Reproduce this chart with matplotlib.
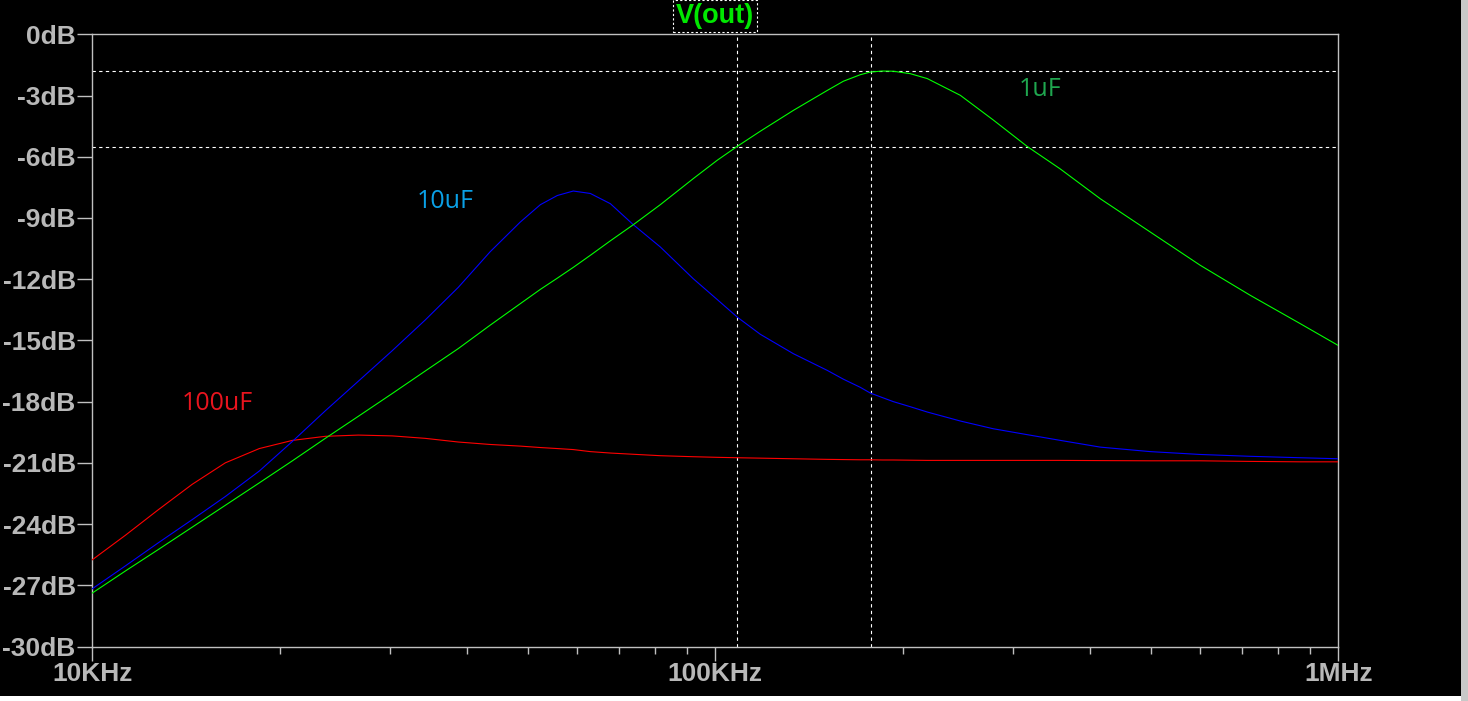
import matplotlib
matplotlib.use("Agg")
import matplotlib.pyplot as plt
from matplotlib.patches import Rectangle
from matplotlib.ticker import FixedLocator, NullFormatter

# ---- data ----
freq_hz = [10000, 11300, 12760, 14470, 16350, 18540, 20950, 23660, 26730, 30310,
           34230, 38680, 43530, 48640, 52380, 55770, 59170, 63010, 67850, 73860,
           81600, 92200, 100740, 108470, 118090, 133420, 151270, 160530, 170910,
           177340, 185380, 193070, 205590, 218900, 247330, 279400, 316810, 357950,
           414970, 499130, 600400, 722180, 868960, 1000000]

db_1uF = [-27.38, -26.30, -25.25, -24.15, -23.08, -21.98, -20.90, -19.80, -18.72, -17.60,
          -16.50, -15.40, -14.25, -13.20, -12.50, -11.95, -11.42, -10.83, -10.12, -9.33,
          -8.35, -7.07, -6.17, -5.49, -4.75, -3.73, -2.75, -2.30, -1.98,
          -1.85, -1.80, -1.81, -1.93, -2.17, -2.99, -4.20, -5.50, -6.60,
          -8.06, -9.69, -11.32, -12.79, -14.18, -15.25]

db_10uF = [-27.17, -26.05, -24.92, -23.78, -22.65, -21.40, -19.95, -18.45, -17.00, -15.50,
           -14.00, -12.40, -10.65, -9.20, -8.35, -7.90, -7.68, -7.80, -8.30, -9.33,
           -10.42, -11.98, -13.00, -13.86, -14.70, -15.65, -16.47, -16.90, -17.30,
           -17.58, -17.80, -18.00, -18.25, -18.51, -18.95, -19.33, -19.62, -19.90,
           -20.23, -20.45, -20.59, -20.68, -20.75, -20.80]

db_100uF = [-25.75, -24.55, -23.30, -22.05, -21.00, -20.30, -19.90, -19.70, -19.64, -19.68,
            -19.80, -19.98, -20.10, -20.18, -20.25, -20.30, -20.35, -20.45, -20.52, -20.58,
            -20.65, -20.70, -20.73, -20.75, -20.77, -20.80, -20.83, -20.84, -20.85,
            -20.85, -20.86, -20.86, -20.87, -20.88, -20.88, -20.88, -20.88, -20.88,
            -20.89, -20.90, -20.90, -20.93, -20.95, -20.95]

y_ticks = [0, -3, -6, -9, -12, -15, -18, -21, -24, -27, -30]
y_labels = ["0dB", "-3dB", "-6dB", "-9dB", "-12dB", "-15dB", "-18dB",
            "-21dB", "-24dB", "-27dB", "-30dB"]
x_ticks = [1e4, 1e5, 1e6]
x_labels = ["10KHz", "100KHz", "1MHz"]

cursor_freqs = [108300, 177600]
cursor_levels = [-1.80, -5.50]

trace_title = "V(out)"
label_texts = ["1uF", "10uF", "100uF"]

# ---- figure ----
W, H = 1468, 701
fig = plt.figure(figsize=(W / 100, H / 100), dpi=100, facecolor="black")
ax = fig.add_axes([92.3 / W, (H - 646.5) / H, (1338.3 - 92.3) / W, (646.5 - 34.3) / H],
                  facecolor="black")

# frame strips at right and bottom
fig.patches.append(Rectangle((1461 / W, 0), 7 / W, 1, transform=fig.transFigure,
                             facecolor="#c8c8c8", edgecolor="none", zorder=-1))
fig.patches.append(Rectangle((0, 0), 1461 / W, 5 / H, transform=fig.transFigure,
                             facecolor="white", edgecolor="none", zorder=-1))

ax.set_xscale("log")
ax.set_xlim(1e4, 1e6)
ax.set_ylim(-30, 0)

# curves
ax.plot(freq_hz, db_100uF, color="#ff0000", lw=0.8, zorder=3)
ax.plot(freq_hz, db_10uF, color="#0000ff", lw=0.8, zorder=3)
ax.plot(freq_hz, db_1uF, color="#00ff00", lw=0.8, zorder=4)

# cursors
for f in cursor_freqs:
    ax.axvline(f, color="white", lw=0.8, linestyle=(0, (3, 3)), zorder=2)
for lv in cursor_levels:
    ax.axhline(lv, color="white", lw=0.8, linestyle=(0, (3, 3)), zorder=2)

# spines
for s in ax.spines.values():
    s.set_color("#c0c0c0")
    s.set_linewidth(1.0)

tick_color = "#b8b8b8"
ax.yaxis.set_major_locator(FixedLocator(y_ticks))
ax.set_yticklabels(y_labels)
ax.xaxis.set_major_locator(FixedLocator(x_ticks))
ax.set_xticklabels(x_labels)
minor = [m * 10 ** e for e in (4, 5) for m in range(2, 10)]
ax.xaxis.set_minor_locator(FixedLocator(minor))
ax.xaxis.set_minor_formatter(NullFormatter())
ax.yaxis.set_minor_locator(FixedLocator([]))

ax.tick_params(axis="y", which="major", direction="out", length=11, width=1,
               color="#c0c0c0", pad=1.0, labelsize=19, labelcolor=tick_color)
ax.tick_params(axis="x", which="major", direction="out", length=10, width=1,
               color="#c0c0c0", pad=1.0, labelsize=19, labelcolor=tick_color)
ax.tick_params(axis="x", which="minor", direction="out", length=5, width=1,
               color="#c0c0c0")
for lab in ax.get_xticklabels() + ax.get_yticklabels():
    lab.set_fontweight("bold")
    lab.set_fontfamily("Liberation Sans")


def px(x, y):
    return (x / W, 1 - y / H)


# title
fig.text(*px(715, 16), trace_title, color="#00e800", fontsize=19.5,
         fontweight="bold", family="Liberation Sans", ha="center", va="center",
         bbox=dict(boxstyle="square,pad=0.1", facecolor="black",
                   edgecolor="white", linestyle=(0, (2, 2)), linewidth=0.8))

# curve labels
fig.text(*px(1019, 89), label_texts[0], color="#1fa64f", fontsize=18,
         family="Open Sans", ha="left", va="center")
fig.text(*px(417, 201), label_texts[1], color="#0aa0e6", fontsize=18,
         family="Open Sans", ha="left", va="center")
fig.text(*px(182, 404), label_texts[2], color="#e8141e", fontsize=18,
         family="Open Sans", ha="left", va="center")

fig.savefig("out.png", dpi=100, facecolor="black")
